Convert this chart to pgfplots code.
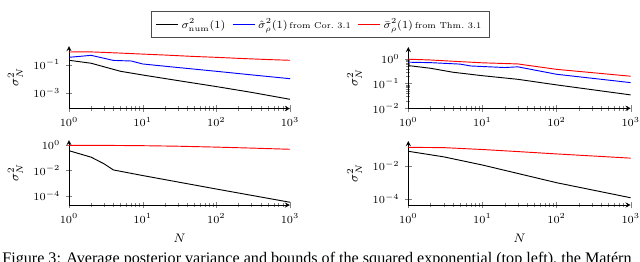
\documentclass[border=0pt]{standalone}
\usepackage{fontspec}
\usepackage{pgfplots}
\pgfplotsset{compat=1.18}
\newfontfamily\captfont{Liberation Serif}
\pgfplotsset{
  every axis/.append style={
    scale only axis,
    axis lines=left,
    xmode=log, ymode=log,
    xmin=1, xmax=1000,
    xtick={1,10,100,1000},
    tick label style={font=\fontsize{7}{8}\selectfont},
    label style={font=\fontsize{8.5}{10}\selectfont},
    ylabel={$\sigma^2_N$},
    every axis plot/.append style={line width=0.6pt, no markers},
    axis line style={line width=0.5pt},
  },
}
\begin{document}
\begin{tikzpicture}
\useasboundingbox (0,0) rectangle (412.8pt,168.345pt);
\clip (0,0) rectangle (412.8pt,168.345pt);
% top left
\begin{axis}[at={(44.505pt,98.363pt)}, anchor=south west,
  width=142.545pt, height=40.3125pt,
  ymin=7.94e-5, ymax=2.089, ytick={1e-3,1e-1},
  legend image code/.code={\draw[#1] (0pt,0pt) -- (14pt,0pt);},
  legend style={at={(1.136,1.344)}, anchor=center, legend columns=-1,
    font=\fontsize{7}{8}\selectfont, draw=black!70, inner ysep=2.5pt, inner xsep=3pt,
    /tikz/every even column/.append style={column sep=2.5pt}},
]
\addplot[black] coordinates {(1,0.204)(2,0.126)(5,0.034)(10,0.0186)(30,0.0075)(100,0.00282)(300,0.0011)(1000,0.000355)};
\addlegendentry{$\sigma^2_{\mathrm{num}}(1)$}
\addplot[blue] coordinates {(1,0.331)(2,0.457)(4,0.20)(7,0.182)(10,0.112)(30,0.063)(100,0.034)(300,0.019)(1000,0.0102)};
\addlegendentry{$\hat{\sigma}^2_\rho(1)$\,{\fontsize{5.5}{6}\selectfont from Cor.~3.1}}
\addplot[red] coordinates {(1,0.79)(2,0.80)(5,0.66)(10,0.56)(20,0.48)(50,0.38)(100,0.33)(200,0.28)(500,0.23)(1000,0.204)};
\addlegendentry{$\bar{\sigma}^2_\rho(1)$\,{\fontsize{5.5}{6}\selectfont from Thm.~3.1}}
\end{axis}
% top right
\begin{axis}[at={(263.35pt,98.49pt)}, anchor=south west,
  width=143.45pt, height=39.54pt,
  ymin=0.01, ymax=3.06, ytick={1e-2,1e-1,1},
]
\addplot[black] coordinates {(1,0.54)(2,0.42)(4,0.29)(10,0.21)(30,0.15)(100,0.089)(1000,0.035)};
\addplot[blue] coordinates {(1,0.74)(2,0.71)(5,0.62)(7,0.52)(20,0.45)(30,0.48)(100,0.24)(1000,0.11)};
\addplot[red] coordinates {(1,0.98)(2,0.91)(5,0.78)(10,0.70)(30,0.63)(100,0.38)(1000,0.20)};
\end{axis}
% bottom left
\begin{axis}[at={(44.505pt,36.12pt)}, anchor=south west,
  width=142.545pt, height=41.925pt,
  ymin=1.95e-5, ymax=2.455, ytick={1e-4,1e-2,1},
  xlabel={$N$},
]
\addplot[black] coordinates {(1,0.355)(2,0.11)(3,0.033)(4,0.011)(10,0.0040)(100,3.5e-4)(1000,3.2e-5)};
\addplot[red] coordinates {(1,0.93)(3,0.93)(10,0.88)(30,0.80)(100,0.68)(300,0.57)(1000,0.46)};
\end{axis}
% bottom right
\begin{axis}[at={(263.35pt,36.12pt)}, anchor=south west,
  width=143.45pt, height=41.28pt,
  ymin=4.37e-5, ymax=0.327, ytick={1e-4,1e-2},
  xlabel={$N$},
]
\addplot[black] coordinates {(1,0.078)(3,0.036)(10,0.0115)(100,9.8e-4)(1000,1.2e-4)};
\addplot[red] coordinates {(1,0.135)(3,0.13)(10,0.10)(30,0.075)(100,0.054)(1000,0.030)};
\end{axis}
\node[anchor=base west, inner sep=0pt, font=\captfont\fontsize{10.4}{12}\selectfont] at (1.3pt,-1.6pt)
  {Figure 3: Average posterior variance and bounds of the squared exponential (top left), the Matérn};
\end{tikzpicture}
\end{document}
